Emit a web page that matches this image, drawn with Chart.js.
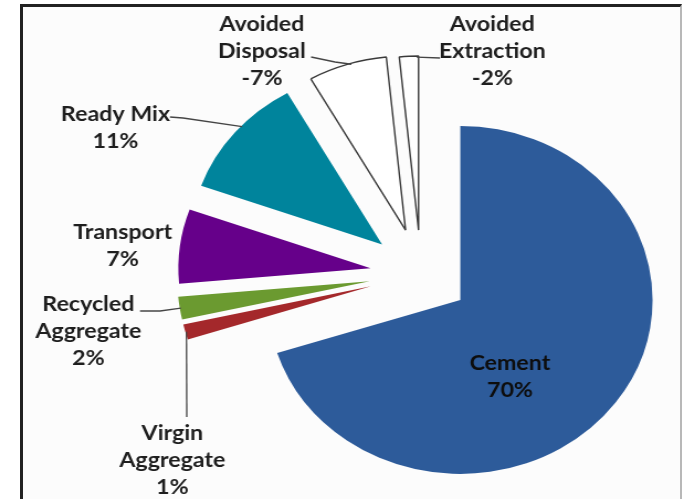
<!DOCTYPE html>
<html><head><meta charset="utf-8">
<script src="https://cdn.jsdelivr.net/npm/chart.js@4/dist/chart.umd.min.js"></script>
<style>
html,body{margin:0;padding:0;background:#fff;width:683px;height:499px;overflow:hidden}
#frame{position:absolute;left:20px;top:4px;width:657px;height:520px;background:#fcfcfc;border-left:3px solid #222;border-top:3px solid #222;border-right:2px solid #b8b8b8;}
#wrap{position:absolute;left:0;top:0;width:618px;height:499px;transform:scaleX(1.105);transform-origin:0 0}
</style></head><body>
<div id="frame"></div>
<div id="wrap"><canvas id="c" width="618" height="499"></canvas></div>
<script>
// ---- data (labels show the rounded percentages) ----
const categories = ['Cement','Virgin Aggregate','Recycled Aggregate','Transport','Ready Mix','Avoided Disposal','Avoided Extraction'];
const labelLines = [['Cement'],['Virgin','Aggregate'],['Recycled','Aggregate'],['Transport'],['Ready Mix'],['Avoided','Disposal'],['Avoided','Extraction']];
const shares = [70.0, 1.4, 2.1, 6.9, 11.3, -6.6, -1.6];

// ---- styles / layout ----
const fillColors = ['#2d5b9a','#a4282b','#6b9a30','#66008a','#00849c','#ffffff','#ffffff'];
const edgeColors = ['#2d5b9a','#a4282b','#6b9a30','#66008a','#00849c','#3a3a3a','#3a3a3a'];
const edgeWidths = [0,0,0,0,0,1.4,1.4];
const explode = [44,47,47,46,46,46,44];
const labelPos = [[461.5,363],[156,433],[80,304],[111,232],[104.5,114],[237,24],[445.5,24]];
const leaderPts = [null, [[169,417]], [[126.7,311],[144.8,311]], null, [[153.8,117],[165.6,118]], [[281.5,57],[303.2,62]], [[398.2,58]]];
const leaderT = [0,0.5,0.5,0,0.57,0.55,0.9];
const lineGap = 27;

const explodePlugin = {
  id: 'explode',
  beforeDatasetDraw(chart, args) {
    const ctx = chart.ctx;
    args.meta.data.forEach((arc, i) => {
      const mid = (arc.startAngle + arc.endAngle) / 2;
      ctx.save();
      ctx.translate(Math.cos(mid) * explode[i], Math.sin(mid) * explode[i]);
      arc.draw(ctx, chart.chartArea);
      ctx.restore();
    });
    return false;
  },
  afterDatasetsDraw(chart) {
    const ctx = chart.ctx;
    const arcs = chart.getDatasetMeta(0).data;
    ctx.save();
    ctx.strokeStyle = '#454545';
    ctx.lineWidth = 1.3;
    arcs.forEach((arc, i) => {
      if (!leaderPts[i]) return;
      const mid = (arc.startAngle + arc.endAngle) / 2;
      const vx = arc.x + Math.cos(mid) * explode[i];
      const vy = arc.y + Math.sin(mid) * explode[i];
      const a = arc.startAngle + leaderT[i] * (arc.endAngle - arc.startAngle);
      const r = arc.outerRadius - 1;
      ctx.beginPath();
      const pts = leaderPts[i];
      ctx.moveTo(pts[0][0], pts[0][1]);
      for (let k = 1; k < pts.length; k++) ctx.lineTo(pts[k][0], pts[k][1]);
      ctx.lineTo(vx + Math.cos(a) * r, vy + Math.sin(a) * r);
      ctx.stroke();
    });
    ctx.restore();
    ctx.save();
    ctx.font = 'bold 21px Lato';
    ctx.textAlign = 'center';
    ctx.textBaseline = 'middle';
    arcs.forEach((arc, i) => {
      const lines = labelLines[i].concat([Math.round(shares[i]) + '%']);
      ctx.fillStyle = i === 0 ? '#0d0d0d' : '#1e1e1e';
      lines.forEach((t, k) => ctx.fillText(t, labelPos[i][0], labelPos[i][1] + k * lineGap));
    });
    ctx.restore();
  }
};

new Chart(document.getElementById('c'), {
  type: 'pie',
  data: {
    labels: categories,
    datasets: [{
      data: shares,
      backgroundColor: fillColors,
      borderColor: edgeColors,
      borderWidth: edgeWidths,
      radius: 174,
      offset: 0
    }]
  },
  options: {
    responsive: false,
    animation: false,
    devicePixelRatio: 1,
    layout: { padding: { left: 164, right: 20, top: 49, bottom: 0 } },
    plugins: { legend: { display: false }, tooltip: { enabled: false } }
  },
  plugins: [explodePlugin]
});
</script>
</body></html>
